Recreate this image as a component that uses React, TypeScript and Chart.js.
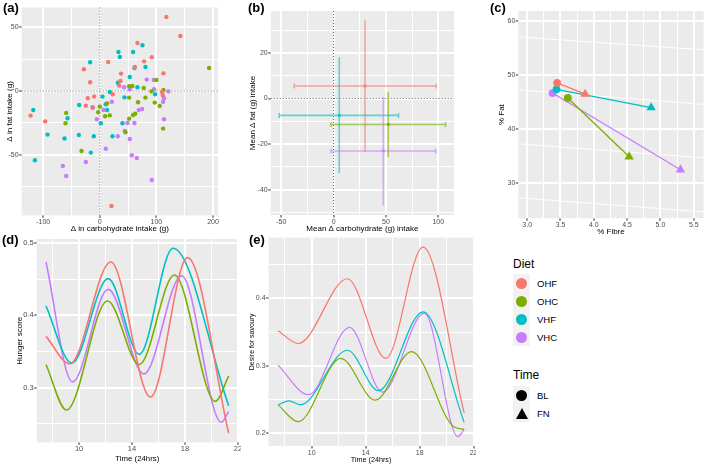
import React, { useEffect, useRef } from "react";
import { Chart, registerables } from "chart.js";

Chart.register(...registerables);

const FONT = "'Liberation Sans', Arial, Helvetica, sans-serif";
Chart.defaults.font.family = FONT;

// ---------- groups ----------
const diets = ["OHF", "OHC", "VHF", "VHC"];
const dietColours = ["#F8766D", "#7CAE00", "#00BFC4", "#C77CFF"];
const times = ["BL", "FN"];

// ---------- (a) individual change in carbohydrate vs fat intake ----------
const carbOHF = [117.6, 142.4, 66.5, 91.8, 78.2, 61.8, 14.7, -28.2, 37.6, 112.4, -17.1, 36.5, 34.1, 22.9, -21.2, -10, -24.7, -12.9, -122.4, -96.5, 110, 111.2, 20.6];
const fatOHF = [58.0, 43.1, 37.6, 26.4, 23.2, 18.8, 22.7, 17.0, 13.6, 13.8, 6.8, 7.8, 4.2, -2.6, -5.7, -4.4, -11.5, -12.8, -19.3, -23.8, -0.8, -3.4, -90.1];
const carbOHC = [193, 100, 51.8, 57.6, 77.6, 91.2, 112.4, 51.8, 80.6, 67.6, 97, 105.9, 0, 12.9, -2.9, -59.4, -60.6, 9.4, 17.6, 58.8, 62.4, 51.8, 111.8, 45.3, -32.4];
const fatOHC = [18.0, 8.6, 3.7, 3.9, 2.3, -0.3, 0.8, -5.2, -5.2, -8.9, -9.1, -11.7, -12.3, -9.7, -16.7, -17.2, -25.3, -19.8, -19.1, -18.8, -17.8, -21.7, -29.5, -32.4, -47];
const carbVHF = [75.3, 32.9, 35.3, 58.8, -17.1, 61.2, 80.6, 52.9, 31.8, 66.5, 17.6, 4.7, 43.5, 97.6, 10.6, 12.9, -36.5, -117.6, -57, 1.8, 40, -92.4, -62.4, -37, -10.6, 22.4, -15.9, -114.7];
const fatVHF = [35.8, 30.5, 26.6, 30.5, 22.5, 18.0, 18.8, 11.0, 6.5, 2.9, -0.8, -4.4, -5.0, -2.6, -10.4, -14.9, -11, -14.9, -21.4, -25.3, -25.3, -34.2, -37.3, -34.5, -35.5, -35.5, -48.3, -54.3];
const carbVHC = [82.9, 95.3, 121.2, 42.9, 52.9, 95.9, 113.5, 111.8, 21.2, -12.4, 6.5, -5.3, 74.7, 68.8, 113.5, 48.8, 61.2, 44.1, 31.8, 52.9, 10.6, 56.5, 65.3, -24.7, -65.3, -59.4, 91.8];
const fatVHC = [8.9, 8.6, -0.3, 2.9, 1.3, 1.3, -5.7, -8.4, -8.4, -13.1, -14.9, -22.2, -14.1, -14.9, -22.2, -25.1, -25.1, -31.3, -35.5, -37.6, -45.2, -50.4, -52.5, -55.6, -58.7, -66.6, -69.7];
const carbByDiet = [carbOHF, carbOHC, carbVHF, carbVHC];
const fatByDiet = [fatOHF, fatOHC, fatVHF, fatVHC];

// ---------- (b) mean change with ranges (order: OHF, OHC, VHF, VHC) ----------
const meanCarb = [30, 52.2, 5.4, 47.5];
const meanFat = [5.5, -11.4, -7.4, -23];
const carbLow = [-37.7, -2.5, -52, -2.5];
const carbHigh = [98, 107, 62, 97.5];
const fatLow = [-23.3, -25.7, -32.7, -47];
const fatHigh = [34.3, 2.9, 18.1, 0.7];

// ---------- (c) % fibre vs % fat at BL and FN ----------
const fibreBL = [3.45, 3.61, 3.44, 3.38];
const fatPctBL = [48.5, 45.7, 47.3, 46.6];
const fibreFN = [3.87, 4.53, 4.86, 5.3];
const fatPctFN = [46.4, 34.8, 43.9, 32.4];
// faint white slanted guide lines (value at left edge, value at right edge)
const guideFatLeft = [57.0, 47.2, 37.2, 27.2];
const guideFatRight = [54.6, 44.5, 34.6, 24.6];

// ---------- (d) hunger score curves ----------
const hungerTimeOHF = [7.5, 9.3, 12.4, 15.4, 18.2, 21.3];
const hungerOHF = [0.371, 0.333, 0.474, 0.287, 0.48, 0.237];
const hungerTimeOHC = [7.5, 9.05, 12.15, 14.55, 17.2, 20.3, 21.3];
const hungerOHC = [0.332, 0.269, 0.42, 0.332, 0.456, 0.281, 0.316];
const hungerTimeVHF = [7.5, 9.45, 12.2, 14.55, 17.1, 21.3];
const hungerVHF = [0.413, 0.334, 0.451, 0.346, 0.493, 0.275];
const hungerTimeVHC = [7.5, 9.5, 12.2, 14.9, 17.75, 20.75, 21.3];
const hungerVHC = [0.474, 0.308, 0.436, 0.319, 0.455, 0.252, 0.267];
const hungerTimes = [hungerTimeOHF, hungerTimeOHC, hungerTimeVHF, hungerTimeVHC];
const hungerValues = [hungerOHF, hungerOHC, hungerVHF, hungerVHC];

// ---------- (e) desire for savoury curves ----------
const savouryTimeOHF = [7.5, 9.0, 12.65, 15.5, 18.25, 21.3];
const savouryOHF = [0.352, 0.333, 0.429, 0.311, 0.476, 0.23];
const savouryTimeOHC = [7.5, 9.0, 12.15, 14.7, 17.4, 20.5, 21.3];
const savouryOHC = [0.242, 0.217, 0.311, 0.249, 0.321, 0.21, 0.206];
const savouryTimeVHF = [7.5, 8.3, 9.15, 12.65, 14.95, 18.25, 21.3];
const savouryVHF = [0.242, 0.248, 0.242, 0.323, 0.263, 0.38, 0.216];
const savouryTimeVHC = [7.5, 9.75, 12.8, 15.25, 18.35, 20.85, 21.3];
const savouryVHC = [0.301, 0.257, 0.357, 0.261, 0.378, 0.195, 0.206];
const savouryTimes = [savouryTimeOHF, savouryTimeOHC, savouryTimeVHF, savouryTimeVHC];
const savouryValues = [savouryOHF, savouryOHC, savouryVHF, savouryVHC];

// ---------- tick labels ----------
const aXTicks = [-100, -50, 0, 50, 100, 150, 200];
const aXMajor = [-100, 0, 100, 200];
const aYTicks = [-75, -50, -25, 0, 25, 50];
const aYMajor = [-50, 0, 50];
const bXTicks = [-50, -25, 0, 25, 50, 75, 100];
const bXMajor = [-50, 0, 50, 100];
const bYTicks = [-50, -40, -30, -20, -10, 0, 10, 20, 30];
const bYMajor = [-40, -20, 0, 20];
const cXTicks = [3, 3.25, 3.5, 3.75, 4, 4.25, 4.5, 4.75, 5, 5.25, 5.5];
const cXMajor = [3, 3.5, 4, 4.5, 5, 5.5];
const cYTicks = [30, 40, 50, 60];
const timeTicks = [8, 10, 12, 14, 16, 18, 20, 22];
const timeMajor = [10, 14, 18, 22];
const dYTicks = [0.25, 0.3, 0.35, 0.4, 0.45, 0.5];
const dYMajor = [0.3, 0.4, 0.5];
const eYTicks = [0.2, 0.25, 0.3, 0.35, 0.4, 0.45];
const eYMajor = [0.2, 0.3, 0.4];

// ---------- layout (positions / sizes) ----------
type Box = { left: number; top: number; width: number; height: number };
const LAYOUT = {
  a: { box: { left: 0, top: 0, width: 222, height: 234 }, yW: 21.6, xH: 18.6, padTop: 7.5, padRight: 3.6, x: [-138.2, 208.8], y: [-97.5, 65.4] },
  b: { box: { left: 240, top: 0, width: 218, height: 234 }, yW: 30.7, xH: 19, padTop: 11, padRight: 3, x: [-60.1, 115], y: [-51.1, 38.4] },
  c: { box: { left: 490, top: 0, width: 219, height: 237 }, yW: 28.3, xH: 18.7, padTop: 11, padRight: 2.3, x: [2.867, 5.647], y: [23.4, 61.8] },
  d: { box: { left: 0, top: 234, width: 241, height: 232 }, yW: 36.7, xH: 23.6, padTop: 5, padRight: 3.1, x: [6.8, 22.0], y: [0.2242, 0.5058] },
  e: { box: { left: 245, top: 234, width: 231, height: 232 }, yW: 23.6, xH: 20, padTop: 3.6, padRight: 2.4, x: [6.8, 22.0], y: [0.181, 0.49] },
};

const isIn = (v: number, arr: number[]) => arr.some((a) => Math.abs(a - v) < 1e-9);

type AxisSpec = {
  position: "left" | "bottom";
  min: number;
  max: number;
  ticks: number[];
  major: number[];
  digits: number;
  title: string;
  size: number;
  titleSize: number;
  titlePad: number;
  tickSize: number;
  tickPad: number;
};

function axis(o: AxisSpec) {
  const horizontal = o.position === "bottom";
  return {
    type: "linear",
    position: o.position,
    min: o.min,
    max: o.max,
    afterBuildTicks: (s: any) => {
      s.ticks = o.ticks.map((v) => ({ value: v, major: isIn(v, o.major) }));
    },
    afterFit: (s: any) => {
      if (horizontal) s.height = o.size;
      else s.width = o.size;
      s.paddingLeft = 0;
      s.paddingRight = 0;
      s.paddingTop = 0;
      s.paddingBottom = 0;
    },
    ticks: {
      autoSkip: false,
      maxRotation: 0,
      minRotation: 0,
      padding: o.tickPad,
      color: "#4D4D4D",
      font: { family: FONT, size: o.tickSize },
      callback: (v: number) => (isIn(v, o.major) ? v.toFixed(o.digits) : ""),
    },
    grid: { display: false, drawTicks: true, tickLength: 2.5 },
    border: { display: false },
    title: {
      display: true,
      text: o.title,
      color: "#000000",
      font: { family: FONT, size: o.titleSize },
      padding: { top: o.titlePad, bottom: o.titlePad },
    },
  };
}

// ---------- plugins ----------
// grey panel + white major/minor grid lines + dark tick marks, from the scales' own ticks
const ggPanel = {
  id: "ggPanel",
  beforeDatasetsDraw(chart: any) {
    const { ctx, chartArea: ca, scales } = chart;
    if (!ca) return;
    ctx.save();
    ctx.fillStyle = "#EBEBEB";
    ctx.fillRect(ca.left, ca.top, ca.right - ca.left, ca.bottom - ca.top);
    ["x", "y"].forEach((key) => {
      const s = scales[key];
      (s.ticks || []).forEach((t: any) => {
        const isMajor = !!t.major;
        const raw = s.getPixelForValue(t.value);
        const w = isMajor ? 2 : 1;
        const p = isMajor ? Math.round(raw) : Math.floor(raw) + 0.5;
        ctx.fillStyle = "#FFFFFF";
        if (key === "x") {
          ctx.fillRect(p - w / 2, ca.top, w, ca.bottom - ca.top);
        } else {
          ctx.fillRect(ca.left, p - w / 2, ca.right - ca.left, w);
        }
        if (isMajor) {
          ctx.fillStyle = "#333333";
          if (key === "x") ctx.fillRect(p - 0.5, ca.bottom, 1, 2.5);
          else ctx.fillRect(ca.left - 2.5, p - 0.5, 2.5, 1);
        }
      });
    });
    ctx.restore();
  },
};

const zeroLines = {
  id: "zeroLines",
  beforeDatasetsDraw(chart: any, _args: any, opts: any) {
    if (!opts || !opts.show) return;
    const { ctx, chartArea, scales } = chart;
    ctx.save();
    ctx.strokeStyle = "#333333";
    ctx.lineWidth = 0.8;
    ctx.setLineDash([1, 2]);
    const px = scales.x.getPixelForValue(0);
    const py = scales.y.getPixelForValue(0);
    ctx.beginPath();
    ctx.moveTo(px, chartArea.top);
    ctx.lineTo(px, chartArea.bottom);
    ctx.moveTo(chartArea.left, py);
    ctx.lineTo(chartArea.right, py);
    ctx.stroke();
    ctx.restore();
  },
};

const errorBars = {
  id: "errorBars",
  beforeDatasetsDraw(chart: any) {
    const { ctx, scales } = chart;
    const { x, y } = scales;
    chart.data.datasets.forEach((ds: any) => {
      if (!ds.errX) return;
      const p = ds.data[0];
      const cx = x.getPixelForValue(p.x);
      const cy = y.getPixelForValue(p.y);
      const x0 = x.getPixelForValue(ds.errX[0]);
      const x1 = x.getPixelForValue(ds.errX[1]);
      const y0 = y.getPixelForValue(ds.errY[0]);
      const y1 = y.getPixelForValue(ds.errY[1]);
      ctx.save();
      ctx.strokeStyle = ds.errColour;
      ctx.lineWidth = 1.6;
      ctx.beginPath();
      ctx.moveTo(x0, cy);
      ctx.lineTo(x1, cy);
      ctx.moveTo(x0, cy - 2.5);
      ctx.lineTo(x0, cy + 2.5);
      ctx.moveTo(x1, cy - 2.5);
      ctx.lineTo(x1, cy + 2.5);
      ctx.moveTo(cx, y0);
      ctx.lineTo(cx, y1);
      ctx.stroke();
      ctx.restore();
    });
  },
};

function hexA(hex: string, a: number) {
  const n = parseInt(hex.slice(1), 16);
  return `rgba(${(n >> 16) & 255},${(n >> 8) & 255},${n & 255},${a})`;
}

function baseOptions(L: any, xAxis: any, yAxis: any, extraPlugins: any = {}) {
  return {
    responsive: false,
    animation: false,
    events: [],
    layout: { padding: { left: 0, top: L.padTop, right: L.padRight, bottom: 0 } },
    plugins: { legend: { display: false }, tooltip: { enabled: false }, ...extraPlugins },
    scales: { x: xAxis, y: yAxis },
  };
}

// ---------- configs ----------
function configA() {
  const L = LAYOUT.a;
  return {
    type: "scatter",
    data: {
      datasets: diets.map((d, i) => ({
        label: d,
        data: carbByDiet[i].map((c, k) => ({ x: c, y: fatByDiet[i][k] })),
        backgroundColor: dietColours[i],
        borderWidth: 0,
        pointRadius: 2.2,
      })),
    },
    options: baseOptions(
      L,
      axis({ position: "bottom", min: L.x[0], max: L.x[1], ticks: aXTicks, major: aXMajor, digits: 0, title: "Δ in carbohydrate intake (g)", size: L.xH, titleSize: 8, titlePad: 0, tickSize: 7, tickPad: 0 }),
      axis({ position: "left", min: L.y[0], max: L.y[1], ticks: aYTicks, major: aYMajor, digits: 0, title: "Δ in fat intake (g)", size: L.yW, titleSize: 8, titlePad: 5.2, tickSize: 7, tickPad: 0.5 }),
      { zeroLines: { show: true } }
    ),
    plugins: [ggPanel, zeroLines],
  };
}

function configB() {
  const L = LAYOUT.b;
  return {
    type: "scatter",
    data: {
      datasets: diets.map((d, i) => ({
        label: d,
        data: [{ x: meanCarb[i], y: meanFat[i] }],
        errX: [carbLow[i], carbHigh[i]],
        errY: [fatLow[i], fatHigh[i]],
        errColour: hexA(dietColours[i], 0.6),
        backgroundColor: hexA(dietColours[i], 0.85),
        borderWidth: 0,
        pointStyle: "rect",
        pointRadius: 2,
      })),
    },
    options: baseOptions(
      L,
      axis({ position: "bottom", min: L.x[0], max: L.x[1], ticks: bXTicks, major: bXMajor, digits: 0, title: "Mean Δ carbohydrate (g) intake", size: L.xH, titleSize: 8, titlePad: 0, tickSize: 7, tickPad: 0 }),
      axis({ position: "left", min: L.y[0], max: L.y[1], ticks: bYTicks, major: bYMajor, digits: 0, title: "Mean Δ fat (g) intake", size: L.yW, titleSize: 8, titlePad: 8.2, tickSize: 7, tickPad: 0.5 }),
      { zeroLines: { show: true } }
    ),
    plugins: [ggPanel, zeroLines, errorBars],
  };
}

function configC() {
  const L = LAYOUT.c;
  const guides = guideFatLeft.map((g, i) => ({
    label: "guide" + i,
    data: [
      { x: L.x[0], y: g },
      { x: L.x[1], y: guideFatRight[i] },
    ],
    showLine: true,
    borderColor: "#FFFFFF",
    borderWidth: 1,
    pointRadius: 0,
    order: 10,
  }));
  const lines = diets.map((d, i) => ({
    label: d,
    data: [
      { x: fibreBL[i], y: fatPctBL[i] },
      { x: fibreFN[i], y: fatPctFN[i] },
    ],
    showLine: true,
    borderColor: dietColours[i],
    borderWidth: 1.3,
    backgroundColor: dietColours[i],
    pointBorderWidth: 0,
    pointStyle: times.map((t) => (t === "BL" ? "circle" : "triangle")),
    pointRadius: times.map((t) => (t === "BL" ? 3.9 : 5.4)),
    order: 1,
  }));
  return {
    type: "scatter",
    data: { datasets: [...lines, ...guides] },
    options: baseOptions(
      L,
      axis({ position: "bottom", min: L.x[0], max: L.x[1], ticks: cXTicks, major: cXMajor, digits: 1, title: "% Fibre", size: L.xH, titleSize: 8, titlePad: 0.2, tickSize: 7, tickPad: 0.5 }),
      axis({ position: "left", min: L.y[0], max: L.y[1], ticks: cYTicks, major: cYTicks, digits: 0, title: "% Fat", size: L.yW, titleSize: 8, titlePad: 6.9, tickSize: 7, tickPad: 0.5 })
    ),
    plugins: [ggPanel],
  };
}

function curveConfig(L: any, timesByDiet: number[][], valuesByDiet: number[][], yTicks: number[], yMajor: number[], yTitle: string, big: boolean, width: number) {
  return {
    type: "scatter",
    data: {
      datasets: diets.map((d, i) => ({
        label: d,
        data: timesByDiet[i].map((t, k) => ({ x: t, y: valuesByDiet[i][k] })),
        showLine: true,
        borderColor: dietColours[i],
        borderWidth: width,
        pointRadius: 0,
        cubicInterpolationMode: "monotone",
      })),
    },
    options: baseOptions(
      L,
      axis({ position: "bottom", min: L.x[0], max: L.x[1], ticks: timeTicks, major: timeMajor, digits: 0, title: "Time (24hrs)", size: L.xH, titleSize: big ? 7.8 : 7.2, titlePad: big ? 2.5 : 1.2, tickSize: big ? 7.5 : 7, tickPad: 0 }),
      axis({ position: "left", min: L.y[0], max: L.y[1], ticks: yTicks, major: yMajor, digits: 1, title: yTitle, size: L.yW, titleSize: big ? 8 : 7, titlePad: big ? 15 : 2.8, tickSize: big ? 7.5 : 7, tickPad: 0.5 })
    ),
    plugins: [ggPanel],
  };
}

function ChartPanel({ box, make }: { box: Box; make: () => any }) {
  const ref = useRef<HTMLCanvasElement>(null);
  useEffect(() => {
    if (!ref.current) return;
    const chart = new Chart(ref.current, make() as any);
    return () => chart.destroy();
  }, []);
  return (
    <canvas
      ref={ref}
      width={box.width}
      height={box.height}
      style={{ position: "absolute", left: box.left, top: box.top, width: box.width, height: box.height }}
    />
  );
}

const panelLabels = [
  { text: "(a)", left: 3, top: 0 },
  { text: "(b)", left: 248, top: 0 },
  { text: "(c)", left: 490, top: 0 },
  { text: "(d)", left: 2, top: 232 },
  { text: "(e)", left: 249, top: 232 },
];

function Legend() {
  const keyBox = { width: 17, height: 18, background: "#F2F2F2", display: "flex", alignItems: "center", justifyContent: "center" } as React.CSSProperties;
  const label = { fontSize: 9.5, marginLeft: 7, color: "#000" } as React.CSSProperties;
  return (
    <div style={{ position: "absolute", left: 513, top: 256, fontFamily: FONT, color: "#000" }}>
      <div style={{ fontSize: 12, height: 18, lineHeight: "16px" }}>Diet</div>
      {diets.map((d, i) => (
        <div key={d} style={{ display: "flex", alignItems: "center", height: 18 }}>
          <div style={keyBox}>
            <div style={{ width: 11, height: 11, borderRadius: 6, background: dietColours[i] }} />
          </div>
          <span style={label}>{d}</span>
        </div>
      ))}
      <div style={{ height: 20 }} />
      <div style={{ fontSize: 12, height: 20, lineHeight: "18px" }}>Time</div>
      {times.map((t) => (
        <div key={t} style={{ display: "flex", alignItems: "center", height: 18 }}>
          <div style={keyBox}>
            {t === "BL" ? (
              <div style={{ width: 11, height: 11, borderRadius: 6, background: "#000" }} />
            ) : (
              <div style={{ width: 0, height: 0, borderLeft: "6px solid transparent", borderRight: "6px solid transparent", borderBottom: "11px solid #000" }} />
            )}
          </div>
          <span style={label}>{t}</span>
        </div>
      ))}
    </div>
  );
}

export default function App() {
  return (
    <div style={{ position: "absolute", left: 0, top: 0, width: 709, height: 466, background: "#FFFFFF", overflow: "hidden" }}>
      <ChartPanel box={LAYOUT.a.box} make={configA} />
      <ChartPanel box={LAYOUT.b.box} make={configB} />
      <ChartPanel box={LAYOUT.c.box} make={configC} />
      <ChartPanel box={LAYOUT.d.box} make={() => curveConfig(LAYOUT.d, hungerTimes, hungerValues, dYTicks, dYMajor, "Hunger score", true, 1.6)} />
      <ChartPanel box={LAYOUT.e.box} make={() => curveConfig(LAYOUT.e, savouryTimes, savouryValues, eYTicks, eYMajor, "Desire for savoury", false, 1.2)} />
      {panelLabels.map((p) => (
        <div key={p.text} style={{ position: "absolute", left: p.left, top: p.top, fontFamily: FONT, fontWeight: "bold", fontSize: 13, lineHeight: "15px", color: "#000" }}>
          {p.text}
        </div>
      ))}
      <Legend />
    </div>
  );
}
